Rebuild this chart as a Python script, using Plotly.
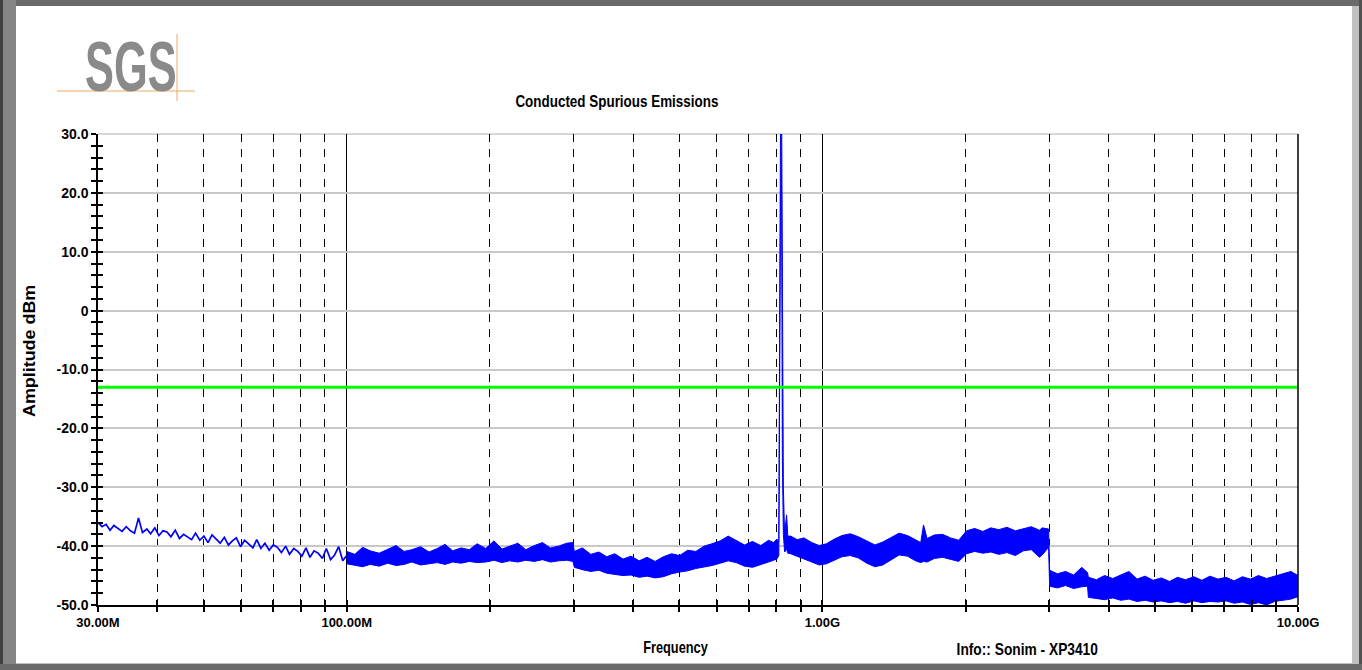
import plotly.graph_objects as go

# ---------------- data ----------------
# 30 MHz - 100 MHz: thin noisy trace
low_mhz = [30, 30.6, 31.2, 31.8, 32.4, 33, 33.7, 34.4, 35.1, 35.8, 36.5, 37.2, 38, 38.7, 39.5,
           40.3, 41.1, 41.9, 42.7, 43.6, 44.5, 45.4, 46.3, 47.2, 48.1, 49.1, 50.1, 51.1, 52.1,
           53.1, 54.2, 55.3, 56.4, 57.5, 58.6, 59.8, 61, 62.2, 63.5, 64.7, 66, 67.3, 68.7, 70.1,
           71.5, 72.9, 74.4, 75.8, 77.4, 78.9, 80.5, 82.1, 83.7, 85.4, 87.1, 88.9, 90.6, 92.5,
           94.3, 96.2, 98.1, 100]
low_dbm = [-36.0, -36.7, -36.3, -37.3, -36.5, -36.9, -37.5, -36.7, -37.4, -37.8, -35.2, -37.7,
           -37.1, -37.9, -36.9,
           -38.2, -37.4, -37.6, -38.4, -37.3, -38.7, -38.0, -38.5, -38.9, -37.8,
           -39.0, -38.3, -39.4, -38.1, -38.8, -39.5, -38.5, -39.8, -39.1, -38.6,
           -40.1, -39.0, -39.6, -40.3, -38.9, -40.4, -39.5, -40.7, -39.8, -40.2,
           -41.1, -40.0, -41.4, -40.4, -40.9, -41.7, -40.3, -41.9, -40.8, -41.2,
           -42.1, -40.4, -42.3, -41.5, -40.1, -42.5, -41.6]

# 100 MHz - 10 GHz: dense noise band (upper / lower envelope)
band_mhz = [100, 104, 108, 112, 117, 122, 127, 132, 137, 143, 149, 155, 161, 167, 174, 181, 188,
            196, 204, 212, 220, 229, 238, 248, 258, 268, 279, 290, 299,
            301, 313, 326, 339, 352, 366, 381, 396, 412, 428, 445, 463, 482, 501, 521, 542, 564,
            586, 610, 634, 659, 686, 713, 742, 771, 790, 802, 810,
            813, 817, 821, 824, 828, 833, 841, 846,
            858, 885, 915, 950, 985, 1020, 1060, 1100, 1145, 1190, 1240, 1290, 1340, 1395, 1450,
            1510, 1570, 1610, 1632, 1660, 1720, 1790, 1860, 1935, 2010, 2090, 2175, 2260, 2350,
            2445, 2545, 2645, 2750, 2860, 2900, 2990,
            3005, 3120, 3245, 3375, 3510, 3610, 3625, 3770, 3920, 4080, 4240, 4410, 4590, 4770,
            4960, 5160, 5370, 5580, 5800, 6040, 6280, 6530, 6790, 7060, 7340, 7640, 7940, 8260,
            8590, 8930, 9290, 9660, 10000]
band_upper = [-40.9, -41.4, -40.2, -40.8, -41.2, -40.5, -39.9, -40.9, -40.6, -40.1,
              -41.0, -40.4, -39.7, -40.8, -40.3, -40.6, -39.6, -40.4, -39.1, -40.5,
              -40.0, -39.5, -40.6, -39.9, -39.4, -40.3, -40.0, -39.5, -39.4,
              -40.9, -40.3, -41.4, -41.0, -41.8, -41.3, -42.2, -41.7, -42.5, -41.9,
              -42.6, -41.8, -41.3, -41.6, -40.7, -40.9, -40.0, -39.6, -39.1, -38.3,
              -39.0, -39.8, -39.2, -39.9, -39.0, -39.4, -38.8, -39.3,
              -5.0, 35.0, 35.0, -10.0, -30.0, -38.0, -34.7, -38.3,
              -38.3, -38.9, -38.6, -39.4, -39.9, -39.6, -38.8, -38.2, -37.9, -38.4,
              -39.1, -39.8, -39.3, -38.6, -37.8, -38.2, -38.9, -39.4, -36.4, -38.7,
              -38.1, -38.0, -38.6, -39.0, -37.4, -37.0, -37.5, -36.9, -37.2, -36.8,
              -37.4, -37.0, -36.7, -37.3, -36.9, -37.1,
              -44.1, -44.7, -44.3, -44.9, -43.6, -44.5, -45.3, -45.7, -45.0, -45.5,
              -44.9, -44.3, -45.6, -45.1, -45.8, -45.4, -46.0, -45.3, -45.7, -45.2,
              -45.8, -45.1, -45.6, -45.3, -45.9, -45.2, -45.6, -45.0, -45.5, -45.1,
              -44.8, -44.3, -45.0]
band_lower = [-43.0, -43.3, -43.5, -43.1, -43.4, -42.9, -43.3, -43.1, -42.7, -43.2,
              -43.0, -42.8, -43.1, -42.7, -42.9, -42.6, -42.8, -42.7, -42.4, -42.8,
              -42.5, -42.7, -42.4, -42.6, -42.3, -42.7, -42.5, -42.4, -42.6,
              -43.6, -44.0, -44.3, -44.1, -44.6, -44.8, -45.0, -44.9, -45.3, -45.1,
              -45.4, -45.2, -44.7, -44.4, -44.2, -43.8, -43.6, -43.3, -42.9, -42.5,
              -42.8, -43.4, -43.6, -43.2, -42.7, -42.4, -42.2, -41.6,
              -15.0, 20.0, 20.0, -25.0, -38.0, -41.0, -40.5, -41.2,
              -41.3, -41.7, -42.2, -42.7, -43.2, -43.0, -42.4, -41.8, -41.6, -42.0,
              -42.9, -43.5, -43.2, -42.4, -41.5, -41.7, -42.5, -42.8, -42.6, -42.7,
              -42.1, -41.9, -42.3, -42.6, -41.3, -40.9, -41.2, -41.0, -41.4, -41.1,
              -41.6, -40.8, -40.6, -41.9, -41.5, -40.2,
              -46.8, -47.1, -46.7, -47.2, -46.9, -46.8, -48.7, -48.9, -49.1, -48.8,
              -49.2, -49.0, -49.4, -49.2, -49.5, -49.3, -49.6, -49.4, -49.7, -49.3,
              -49.6, -49.4, -49.5, -49.3, -49.7, -49.5, -49.9, -49.6, -50.0, -49.4,
              -49.2, -49.0, -48.6]

limit_mhz = [30, 10000]
limit_dbm = [-13.0, -13.0]

y_tick_vals = [30, 20, 10, 0, -10, -20, -30, -40, -50]
y_tick_text = ["30.0", "20.0", "10.0", "0", "-10.0", "-20.0", "-30.0", "-40.0", "-50.0"]
x_major_hz = [30e6, 100e6, 1e9, 10e9]
x_major_text = ["30.00M", "100.00M", "1.00G", "10.00G"]
x_minor_hz = [40e6, 50e6, 60e6, 70e6, 80e6, 90e6,
              200e6, 300e6, 400e6, 500e6, 600e6, 700e6, 800e6, 900e6,
              2e9, 3e9, 4e9, 5e9, 6e9, 7e9, 8e9, 9e9]

assert len(low_mhz) == len(low_dbm)
assert len(band_mhz) == len(band_upper) == len(band_lower)

low_hz = [f * 1e6 for f in low_mhz]
band_hz = [f * 1e6 for f in band_mhz]
limit_hz = [f * 1e6 for f in limit_mhz]

# ---------------- layout geometry ----------------
W, H = 1362, 670
L, R, T, B = 98, 1298, 134, 605


def px(x):
    return (x - L) / (R - L)


def py(y):
    return (B - y) / (B - T)


FONT = "Liberation Sans, Arial, sans-serif"
BLUE = "#0000ff"

fig = go.Figure()
fig.add_trace(go.Scatter(x=low_hz, y=low_dbm, mode="lines",
                         line=dict(color=BLUE, width=1.7), showlegend=False))
fig.add_trace(go.Scatter(x=band_hz, y=band_lower, mode="lines",
                         line=dict(color=BLUE, width=1), hoverinfo="skip", showlegend=False))
fig.add_trace(go.Scatter(x=band_hz, y=band_upper, mode="lines", fill="tonexty",
                         fillcolor=BLUE, line=dict(color=BLUE, width=1),
                         showlegend=False))
fig.add_trace(go.Scatter(x=limit_hz, y=limit_dbm, mode="lines", xaxis="x2", yaxis="y2",
                         line=dict(color="#00ff00", width=3), showlegend=False))

xrange = [7.477121, 10.0]
yrange = [-50, 30]

fig.update_layout(
    width=W, height=H,
    margin=dict(l=L, r=W - R, t=T, b=H - B, pad=0),
    paper_bgcolor="white", plot_bgcolor="white",
    font=dict(family=FONT, color="black", size=12),
    xaxis=dict(type="log", range=xrange, tickmode="array", tickvals=x_major_hz,
               ticktext=x_major_text, ticks="outside", ticklen=5, tickwidth=1.5,
               tickcolor="black", showline=True, linecolor="black", linewidth=1.5,
               showgrid=True, gridcolor="black", gridwidth=1, zeroline=False,
               tickfont=dict(family=FONT, size=13, color="black", weight="bold"),
               minor=dict(tickmode="array", tickvals=x_minor_hz, ticks="outside", ticklen=5,
                          tickwidth=1.5, tickcolor="black", showgrid=True, gridcolor="black",
                          gridwidth=1, griddash="8px,7px")),
    yaxis=dict(range=yrange, tickmode="array", tickvals=y_tick_vals, ticktext=y_tick_text,
               ticks="outside", ticklen=5, tickwidth=1.5, tickcolor="black",
               showline=True, linecolor="black", linewidth=1.5, showgrid=True,
               gridcolor="#c8c8c8", gridwidth=1.5, zeroline=False,
               tickfont=dict(family=FONT, size=14, color="black", weight="bold"),
               minor=dict(dtick=2, tick0=0, ticks="outside", ticklen=5, tickwidth=1.5,
                          tickcolor="black", showgrid=False)),
    xaxis2=dict(type="log", range=xrange, overlaying="x", anchor="y2", side="bottom",
                tickmode="array", tickvals=x_major_hz + x_minor_hz, ticks="inside",
                ticklen=5, tickwidth=1.5, tickcolor="black", showticklabels=False,
                showgrid=False, showline=False, zeroline=False),
    yaxis2=dict(range=yrange, overlaying="y", anchor="x2", side="left",
                tickmode="linear", tick0=0, dtick=2, ticks="inside", ticklen=5,
                tickwidth=1.5, tickcolor="black", showticklabels=False,
                showgrid=False, showline=False, zeroline=False),
    showlegend=False,
)

shapes = []
# plot frame pieces (top grey, right black)
shapes.append(dict(type="line", xref="paper", yref="paper", x0=0, x1=1, y0=1, y1=1,
                   line=dict(color="#c8c8c8", width=1.5), layer="below"))
shapes.append(dict(type="line", xref="paper", yref="paper", x0=1, x1=1, y0=0, y1=1,
                   line=dict(color="black", width=1.5)))
# outer window frame
shapes.append(dict(type="rect", xref="paper", yref="paper", x0=px(0), x1=px(W), y0=py(0), y1=py(6),
                   fillcolor="#6a6a6a", line=dict(width=0)))
shapes.append(dict(type="rect", xref="paper", yref="paper", x0=px(0), x1=px(16), y0=py(0), y1=py(H),
                   fillcolor="#858585", line=dict(width=0)))
shapes.append(dict(type="rect", xref="paper", yref="paper", x0=px(0), x1=px(3), y0=py(0), y1=py(H),
                   fillcolor="#404040", line=dict(width=0)))
shapes.append(dict(type="rect", xref="paper", yref="paper", x0=px(1352), x1=px(1359), y0=py(6),
                   y1=py(H), fillcolor="#c0c0c0", line=dict(width=0)))
shapes.append(dict(type="rect", xref="paper", yref="paper", x0=px(1359), x1=px(W), y0=py(0),
                   y1=py(H), fillcolor="#505050", line=dict(width=0)))
shapes.append(dict(type="rect", xref="paper", yref="paper", x0=px(0), x1=px(W), y0=py(664),
                   y1=py(H), fillcolor="#6a6a6a", line=dict(width=0)))
shapes.append(dict(type="line", xref="paper", yref="paper", x0=px(16), x1=px(1352), y0=py(663.5),
                   y1=py(663.5), line=dict(color="#c0c0c0", width=1)))
# SGS logo lines
shapes.append(dict(type="line", xref="paper", yref="paper", x0=px(57), x1=px(195), y0=py(91),
                   y1=py(91), line=dict(color="#f0a868", width=1)))
shapes.append(dict(type="line", xref="paper", yref="paper", x0=px(177), x1=px(177), y0=py(34),
                   y1=py(101), line=dict(color="#f0a868", width=1)))
fig.update_layout(shapes=shapes)

ann = []
ann.append(dict(text="<b>SGS</b>", x=px(131), y=py(67), xref="paper", yref="paper",
                showarrow=False, xanchor="center", yanchor="middle",
                font=dict(family=FONT, size=70, color="#8a8a8a")))
ann.append(dict(text="<b>Conducted Spurious Emissions</b>", x=px(617), y=py(101), xref="paper",
                yref="paper", showarrow=False, xanchor="center", yanchor="middle",
                font=dict(family=FONT, size=16, color="black")))
ann.append(dict(text="<b>Amplitude dBm</b>", x=px(29), y=py(351), xref="paper", yref="paper",
                showarrow=False, xanchor="center", yanchor="middle", textangle=-90,
                font=dict(family=FONT, size=16, color="black")))
ann.append(dict(text="<b>Frequency</b>", x=px(675), y=py(647), xref="paper", yref="paper",
                showarrow=False, xanchor="center", yanchor="middle",
                font=dict(family=FONT, size=16, color="black")))
ann.append(dict(text="<b>Info:: Sonim - XP3410</b>", x=px(1027), y=py(649), xref="paper",
                yref="paper", showarrow=False, xanchor="center", yanchor="middle",
                font=dict(family=FONT, size=16, color="black")))
fig.update_layout(annotations=ann)

post_js = """
document.body.style.margin = '0';
document.body.style.padding = '0';
var scales = {'SGS': 0.62, 'Conducted Spurious Emissions': 0.84, 'Frequency': 0.8,
              'Info:: Sonim - XP3410': 0.86, 'Amplitude dBm': 1.12};
document.querySelectorAll('text.annotation-text').forEach(function (t) {
    var k = scales[t.textContent];
    if (k) {
        t.style.transformBox = 'fill-box';
        t.style.transformOrigin = 'center';
        t.style.transform = 'scaleX(' + k + ')';
    }
});
"""

fig.write_html("out.html", post_script=post_js, config={"displayModeBar": False})
